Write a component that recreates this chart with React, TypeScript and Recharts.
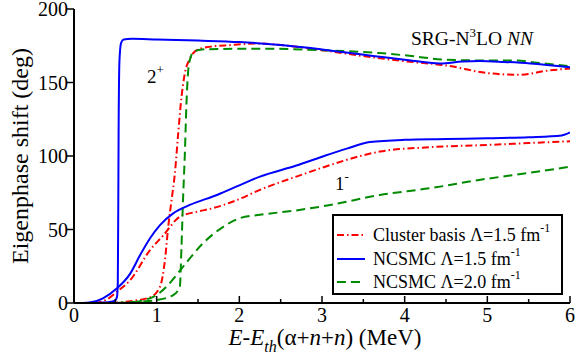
import React from 'react';
import { LineChart, Line, XAxis, YAxis, Legend, Customized } from 'recharts';

// ---- Data (E - Eth in MeV, eigenphase shift in degrees) ----
const ncsmc15_2p = [
  { x: 0.15, y: 0 }, { x: 0.35, y: 0.3 }, { x: 0.45, y: 0.8 }, { x: 0.5, y: 1.8 },
  { x: 0.52, y: 4 }, { x: 0.53, y: 15 }, { x: 0.535, y: 60 }, { x: 0.54, y: 120 },
  { x: 0.55, y: 165 }, { x: 0.57, y: 177 }, { x: 0.6, y: 179.3 }, { x: 0.7, y: 179.8 },
  { x: 1.0, y: 179.3 }, { x: 1.5, y: 178.5 }, { x: 2.0, y: 177.5 }, { x: 2.5, y: 175.5 },
  { x: 3.0, y: 172.5 }, { x: 3.7, y: 167.5 }, { x: 4.0, y: 165.5 }, { x: 4.43, y: 163 },
  { x: 4.7, y: 164.3 }, { x: 4.91, y: 164.6 }, { x: 5.2, y: 164 }, { x: 5.52, y: 163 },
  { x: 6.0, y: 160.3 },
];
const ncsmc15_1m = [
  { x: 0.1, y: 0 }, { x: 0.19, y: 0.3 }, { x: 0.35, y: 3.2 }, { x: 0.52, y: 10 },
  { x: 0.68, y: 20 }, { x: 0.8, y: 32.6 }, { x: 0.92, y: 44 }, { x: 1.04, y: 53 },
  { x: 1.2, y: 61 }, { x: 1.4, y: 66.7 }, { x: 1.73, y: 73.5 }, { x: 2.0, y: 80 },
  { x: 2.25, y: 86 }, { x: 2.69, y: 93.5 }, { x: 3.0, y: 99.5 }, { x: 3.3, y: 105 },
  { x: 3.58, y: 109.5 }, { x: 4.0, y: 111 }, { x: 4.5, y: 111.5 }, { x: 5.0, y: 112 },
  { x: 5.5, y: 112.8 }, { x: 5.9, y: 114 }, { x: 6.0, y: 116 },
];
const cluster15_2p = [
  { x: 0.45, y: 0 }, { x: 0.68, y: 1.2 }, { x: 0.92, y: 3.9 }, { x: 1.04, y: 11 },
  { x: 1.1, y: 29 }, { x: 1.14, y: 52 }, { x: 1.18, y: 70 }, { x: 1.22, y: 88 },
  { x: 1.26, y: 115 }, { x: 1.3, y: 140 }, { x: 1.34, y: 156 }, { x: 1.4, y: 166 },
  { x: 1.46, y: 171 }, { x: 1.6, y: 174 }, { x: 1.9, y: 175.5 }, { x: 2.25, y: 176.5 },
  { x: 2.5, y: 175.5 }, { x: 3.0, y: 172 }, { x: 3.5, y: 168 }, { x: 3.7, y: 166.5 },
  { x: 4.0, y: 164.5 }, { x: 4.51, y: 161.5 }, { x: 4.99, y: 156.5 }, { x: 5.2, y: 155.5 },
  { x: 5.4, y: 155.3 }, { x: 5.72, y: 158 }, { x: 6.0, y: 159.5 },
];
const cluster15_1m = [
  { x: 0.25, y: 0 }, { x: 0.4, y: 2.5 }, { x: 0.52, y: 7.7 }, { x: 0.68, y: 15.6 },
  { x: 0.92, y: 36 }, { x: 1.08, y: 46 }, { x: 1.28, y: 58.7 }, { x: 1.48, y: 62 },
  { x: 1.68, y: 64.5 }, { x: 1.97, y: 70 }, { x: 2.25, y: 77 }, { x: 2.69, y: 86 },
  { x: 3.0, y: 92 }, { x: 3.5, y: 100.5 }, { x: 3.7, y: 103 }, { x: 4.3, y: 106 },
  { x: 5.0, y: 107.5 }, { x: 5.5, y: 108.8 }, { x: 6.0, y: 110 },
];
const ncsmc20_2p = [
  { x: 0.5, y: 0 }, { x: 0.8, y: 1 }, { x: 1.0, y: 2 }, { x: 1.2, y: 5.4 },
  { x: 1.28, y: 11 }, { x: 1.3, y: 38 }, { x: 1.32, y: 72 }, { x: 1.34, y: 100 },
  { x: 1.36, y: 135 }, { x: 1.38, y: 157 }, { x: 1.41, y: 167 }, { x: 1.45, y: 171 },
  { x: 1.55, y: 172.5 }, { x: 1.8, y: 172.8 }, { x: 2.25, y: 173 }, { x: 3.0, y: 172 },
  { x: 3.7, y: 170 }, { x: 4.0, y: 168.5 }, { x: 4.51, y: 165.5 }, { x: 5.0, y: 165 },
  { x: 5.31, y: 165 }, { x: 5.6, y: 163.5 }, { x: 6.0, y: 161 },
];
const ncsmc20_1m = [
  { x: 0.55, y: 0 }, { x: 0.68, y: 0.2 }, { x: 0.85, y: 2 }, { x: 1.0, y: 5.4 },
  { x: 1.15, y: 13 }, { x: 1.32, y: 24.7 }, { x: 1.56, y: 40.6 }, { x: 1.81, y: 52 },
  { x: 2.0, y: 57.6 }, { x: 2.25, y: 60 }, { x: 2.69, y: 63 }, { x: 3.1, y: 66.7 },
  { x: 3.7, y: 73.5 }, { x: 4.3, y: 78 }, { x: 4.9, y: 83.7 }, { x: 5.5, y: 88.5 },
  { x: 6.0, y: 92.7 },
];

const xTicks = [0, 0.5, 1, 1.5, 2, 2.5, 3, 3.5, 4, 4.5, 5, 5.5, 6];
const yTicks = [0, 50, 100, 150, 200];

const RED = '#ff0000';
const BLUE = '#0000ff';
const GREEN = '#008b00';
const RED_DASH = '7 3 1.5 3';
const GREEN_DASH = '9 5';

const legendItems = [
  { label: 'Cluster basis Λ=1.5 fm', color: RED, dash: RED_DASH },
  { label: 'NCSMC Λ=1.5 fm', color: BLUE, dash: undefined },
  { label: 'NCSMC Λ=2.0 fm', color: GREEN, dash: GREEN_DASH },
];

const FONT = "'Liberation Serif', 'Times New Roman', Times, 'DejaVu Serif', serif";
const TS = { fontFamily: FONT };

const BottomTick = (props: any) => {
  const { x, y, payload } = props;
  const major = Number.isInteger(payload.value);
  return (
    <g>
      <line x1={x} x2={x} y1={y} y2={y - (major ? 7 : 4)} stroke="#000" strokeWidth={1.5} />
      {major && (
        <text x={x} y={y + 19} textAnchor="middle" style={TS} fontSize={20} fill="#000">
          {payload.value}
        </text>
      )}
    </g>
  );
};
const TopTick = (props: any) => {
  const { x, y, payload } = props;
  const major = Number.isInteger(payload.value);
  return <line x1={x} x2={x} y1={y} y2={y + (major ? 7 : 5)} stroke="#000" strokeWidth={1.5} />;
};
const LeftTick = (props: any) => {
  const { x, y, payload } = props;
  return (
    <g>
      <line x1={x} x2={x - 8} y1={y} y2={y} stroke="#000" strokeWidth={1.5} />
      <text x={x - 6} y={y + 7} textAnchor="end" style={TS} fontSize={20} fill="#000">
        {payload.value}
      </text>
    </g>
  );
};
const RightTick = (props: any) => {
  const { x, y } = props;
  return <line x1={x} x2={x - 8} y1={y} y2={y} stroke="#000" strokeWidth={1.5} />;
};

const XTitle = () => (
  <text x={325} y={345} textAnchor="middle" style={TS} fontSize={23} fill="#000">
    <tspan fontStyle="italic">E</tspan>
    <tspan>-</tspan>
    <tspan fontStyle="italic">E</tspan>
    <tspan fontStyle="italic" fontSize={16} dy={7}>th</tspan>
    <tspan dy={-7}>(α+</tspan>
    <tspan fontStyle="italic">n</tspan>
    <tspan>+</tspan>
    <tspan fontStyle="italic">n</tspan>
    <tspan>) (MeV)</tspan>
  </text>
);

const YTitle = () => (
  <text
    x={0}
    y={0}
    transform="translate(28,156) rotate(-90)"
    textAnchor="middle"
    style={TS}
    fontSize={24}
    fill="#000"
  >
    Eigenphase shift (deg)
  </text>
);

const Annotations = () => (
  <g style={TS} fill="#000">
    <text x={147} y={83} fontSize={19} style={TS}>
      2<tspan fontSize={13} dy={-9}>+</tspan>
    </text>
    <text x={335} y={190} fontSize={19} style={TS}>
      1<tspan fontSize={13} dy={-9}>-</tspan>
    </text>
    <text x={411} y={45} fontSize={19.5} style={TS}>
      SRG-N<tspan fontSize={13} dy={-8}>3</tspan>
      <tspan dy={8}>LO </tspan>
      <tspan fontStyle="italic">NN</tspan>
    </text>
    <XTitle />
    <YTitle />
  </g>
);

const LegendBox = () => (
  <div
    style={{
      position: 'relative',
      width: 231,
      height: 81,
      border: '2px solid #000',
      boxSizing: 'border-box',
      background: '#fff',
      fontFamily: FONT,
      fontSize: 18,
      color: '#000',
    }}
  >
    {legendItems.map((it, i) => (
      <div
        key={it.label}
        style={{ position: 'absolute', left: 0, top: 8 + i * 23.5, height: 22, width: 227, whiteSpace: 'nowrap' }}
      >
        <svg width={36} height={22} style={{ position: 'absolute', left: 0, top: 0 }}>
          <line x1={3} x2={31} y1={11} y2={11} stroke={it.color} strokeWidth={2} strokeDasharray={it.dash} />
        </svg>
        <span style={{ position: 'absolute', left: 39, top: 0, lineHeight: '22px', fontFamily: FONT }}>
          {it.label}
          <sup style={{ fontSize: 12, verticalAlign: 'top', position: 'relative', top: -7 }}>-1</sup>
        </span>
      </div>
    ))}
  </div>
);

export default function App() {
  return (
    <div style={{ position: 'absolute', left: 0, top: 0, background: '#fff', fontFamily: FONT }}>
      <LineChart width={575} height={360} margin={{ top: 9, right: 5, left: 0, bottom: 0 }} style={{ fontFamily: FONT }}>
        <XAxis
          xAxisId="b"
          type="number"
          dataKey="x"
          domain={[0, 6]}
          ticks={xTicks}
          interval={0}
          height={57}
          tickSize={0}
          tickMargin={0}
          tickLine={false}
          tick={<BottomTick />}
          axisLine={{ stroke: '#000', strokeWidth: 2 }}
          allowDataOverflow
        />
        <XAxis
          xAxisId="t"
          orientation="top"
          type="number"
          dataKey="x"
          domain={[0, 6]}
          ticks={xTicks}
          interval={0}
          height={0}
          tickSize={0}
          tickMargin={0}
          tickLine={false}
          tick={<TopTick />}
          axisLine={{ stroke: '#000', strokeWidth: 2 }}
          allowDataOverflow
        />
        <YAxis
          yAxisId="l"
          type="number"
          domain={[0, 200]}
          ticks={yTicks}
          interval={0}
          width={74}
          tickSize={0}
          tickMargin={0}
          tickLine={false}
          tick={<LeftTick />}
          axisLine={{ stroke: '#000', strokeWidth: 2 }}
          allowDataOverflow
        />
        <YAxis
          yAxisId="r"
          orientation="right"
          type="number"
          domain={[0, 200]}
          ticks={yTicks}
          interval={0}
          width={0}
          tickSize={0}
          tickMargin={0}
          tickLine={false}
          tick={<RightTick />}
          axisLine={{ stroke: '#000', strokeWidth: 2 }}
          allowDataOverflow
        />
        <Line xAxisId="b" yAxisId="l" data={cluster15_1m} dataKey="y" type="monotone" stroke={RED} strokeWidth={2} strokeDasharray={RED_DASH} dot={false} isAnimationActive={false} legendType="none" />
        <Line xAxisId="b" yAxisId="l" data={cluster15_2p} dataKey="y" type="monotone" stroke={RED} strokeWidth={2} strokeDasharray={RED_DASH} dot={false} isAnimationActive={false} legendType="none" />
        <Line xAxisId="b" yAxisId="l" data={ncsmc20_1m} dataKey="y" type="monotone" stroke={GREEN} strokeWidth={2} strokeDasharray={GREEN_DASH} dot={false} isAnimationActive={false} legendType="none" />
        <Line xAxisId="b" yAxisId="l" data={ncsmc20_2p} dataKey="y" type="monotone" stroke={GREEN} strokeWidth={2} strokeDasharray={GREEN_DASH} dot={false} isAnimationActive={false} legendType="none" />
        <Line xAxisId="b" yAxisId="l" data={ncsmc15_1m} dataKey="y" type="monotone" stroke={BLUE} strokeWidth={2} dot={false} isAnimationActive={false} legendType="none" />
        <Line xAxisId="b" yAxisId="l" data={ncsmc15_2p} dataKey="y" type="monotone" stroke={BLUE} strokeWidth={2} dot={false} isAnimationActive={false} legendType="none" />
        <Legend
          layout="horizontal"
          verticalAlign="middle"
          align="center"
          content={() => <LegendBox />}
          wrapperStyle={{ position: 'absolute', left: 332, top: 214, width: 231, height: 81 }}
        />
        <Customized component={Annotations} />
      </LineChart>
    </div>
  );
}
